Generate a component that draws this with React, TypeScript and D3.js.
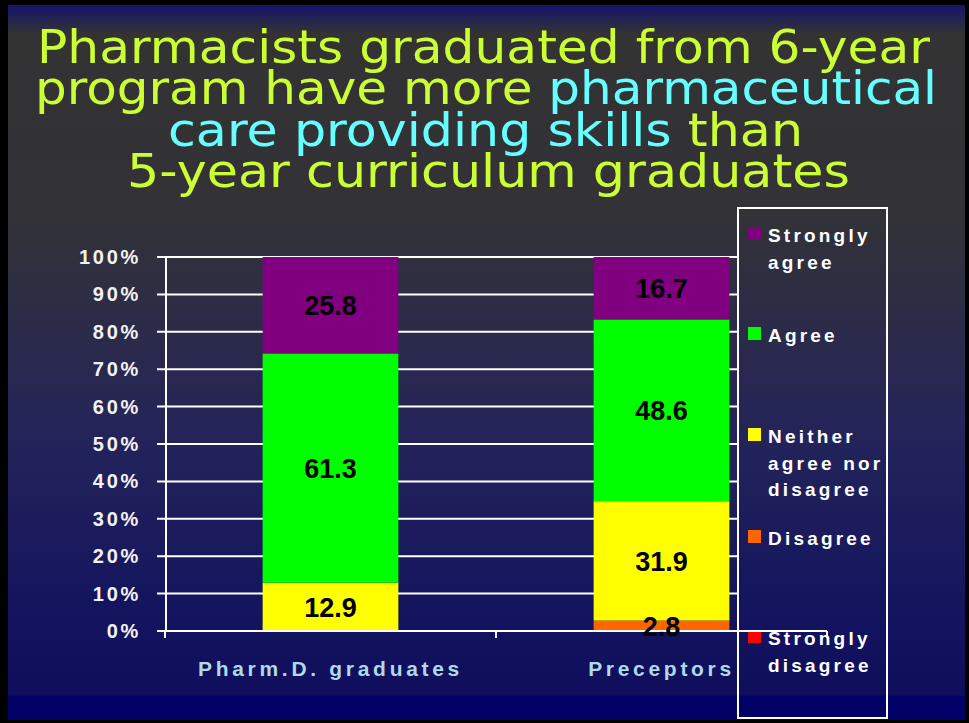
import React from "react";
import * as d3 from "d3";

const categories = ["Pharm.D. graduates", "Preceptors"];
const seriesNames = ["Strongly disagree", "Disagree", "Neither agree nor disagree", "Agree", "Strongly agree"];
const stronglyDisagree = [0, 0];
const disagree = [0, 2.8];
const neither = [12.9, 31.9];
const agree = [61.3, 48.6];
const stronglyAgree = [25.8, 16.7];
const yTicks = [0, 10, 20, 30, 40, 50, 60, 70, 80, 90, 100];
const colors = ["#ff0000", "#ff6600", "#ffff00", "#00ff00", "#800080"];
const legendLines = [["Strongly", "agree"], ["Agree"], ["Neither", "agree nor", "disagree"], ["Disagree"], ["Strongly", "disagree"]];

const W = 969, H = 723;
const YEL = "#ccff33", CYAN = "#66ffff";

export default function App() {
  const series = [stronglyDisagree, disagree, neither, agree, stronglyAgree];
  const y = d3.scaleLinear().domain([0, 100]).range([631, 257]);
  const x = d3.scaleBand().domain(categories).range([165, 827]).paddingInner(0.59).paddingOuter(0.295);
  const rows = categories.map((c, i) => {
    const o: any = { cat: c };
    seriesNames.forEach((s, k) => (o[s] = series[k][i]));
    return o;
  });
  const stacked = d3.stack().keys(seriesNames)(rows);
  const font = "Arial, 'Liberation Sans', Helvetica, sans-serif";
  const titleFont = "'DejaVu Sans', Verdana, sans-serif";
  const legendTops = [227, 327, 428, 530, 630];

  return (
    <svg width={W} height={H} style={{ position: "absolute", left: 0, top: 0 }}>
      <defs>
        <linearGradient id="bg" x1="0" y1="5" x2="0" y2="720" gradientUnits="userSpaceOnUse">
          <stop offset="0" stopColor="#14146c" />
          <stop offset="0.04" stopColor="#333333" />
          <stop offset="0.3" stopColor="#323238" />
          <stop offset="0.6" stopColor="#24245a" />
          <stop offset="0.86" stopColor="#13135f" />
          <stop offset="0.965" stopColor="#0e0e5c" />
          <stop offset="0.967" stopColor="#000066" />
          <stop offset="1" stopColor="#000066" />
        </linearGradient>
      </defs>
      <rect x={0} y={0} width={W} height={H} fill="#000" />
      <rect x={8} y={5} width={957} height={715} fill="url(#bg)" />

      {/* Title */}
      <g fontFamily={titleFont} fontSize={47} textAnchor="start">
        <text x={37} y={63} textLength={893} lengthAdjust="spacingAndGlyphs" fill={YEL}>Pharmacists graduated from 6-year</text>
        <text x={35} y={104} textLength={902} lengthAdjust="spacingAndGlyphs">
          <tspan fill={YEL}>program have more </tspan>
          <tspan fill={CYAN}>pharmaceutical</tspan>
        </text>
        <text x={168} y={146} textLength={635} lengthAdjust="spacingAndGlyphs">
          <tspan fill={CYAN}>care providing skills</tspan>
          <tspan fill={YEL}> than</tspan>
        </text>
        <text x={127} y={187} textLength={723} lengthAdjust="spacingAndGlyphs" fill={YEL}>5-year curriculum graduates</text>
      </g>

      {/* Gridlines and y ticks */}
      {yTicks.map((t) => (
        <g key={t}>
          <line x1={157} x2={t === 0 ? 166 : 738} y1={y(t)} y2={y(t)} stroke="#fff" strokeWidth={2} />
          <text x={141} y={y(t) + 7} textAnchor="end" fill="#f2f2f2" fontFamily={font} fontWeight="bold" fontSize={20} letterSpacing={2.7}>{t}%</text>
        </g>
      ))}
      <line x1={166} x2={166} y1={y(100)} y2={y(0)} stroke="#fff" strokeWidth={2} />

      {/* Bars */}
      {stacked.map((layer, k) => (
        <g key={layer.key} fill={colors[k]}>
          {layer.map((d: any, i) => (
            d[1] - d[0] > 0 ? (
              <rect key={i} x={x(categories[i])} width={x.bandwidth()} y={y(d[1])} height={y(d[0]) - y(d[1])} />
            ) : null
          ))}
        </g>
      ))}

      {/* X axis */}
      <line x1={157} x2={827} y1={y(0)} y2={y(0)} stroke="#fff" strokeWidth={2} />
      {[165, 496, 827].map((tx) => (
        <line key={tx} x1={tx} x2={tx} y1={y(0)} y2={y(0) + 7} stroke="#fff" strokeWidth={2} />
      ))}

      {/* Value labels */}
      {stacked.map((layer) => (
        <g key={"l" + layer.key}>
          {layer.map((d: any, i) => (
            d[1] - d[0] > 0 ? (
              <text key={i} x={(x(categories[i]) as number) + x.bandwidth() / 2} y={(y(d[0]) + y(d[1])) / 2 + 10} textAnchor="middle" fontFamily={font} fontWeight="bold" fontSize={27} fill="#000">
                {(d[1] - d[0]).toFixed(1)}
              </text>
            ) : null
          ))}
        </g>
      ))}

      {/* Category labels */}
      {categories.map((c) => (
        <text key={c} x={(x(c) as number) + x.bandwidth() / 2} y={676} textAnchor="middle" fill="#b0d8e8" fontFamily={font} fontWeight="bold" fontSize={21} letterSpacing={3.7}>{c}</text>
      ))}

      {/* Legend */}
      <rect x={738} y={208} width={149} height={510} fill="none" stroke="#fff" strokeWidth={2} />
      {[4, 3, 2, 1, 0].map((k, idx) => (
        <g key={k}>
          <rect x={748} y={legendTops[idx]} width={13} height={13} fill={colors[k]} />
          {legendLines[idx].map((ln, j) => (
            <text key={j} x={768} y={legendTops[idx] + 15 + j * 26.5} fill="#fff" fontFamily={font} fontWeight="bold" fontSize={19} letterSpacing={3.2}>{ln}</text>
          ))}
        </g>
      ))}
      <line x1={738} x2={827} y1={y(0)} y2={y(0)} stroke="#fff" strokeWidth={2} />
    </svg>
  );
}
